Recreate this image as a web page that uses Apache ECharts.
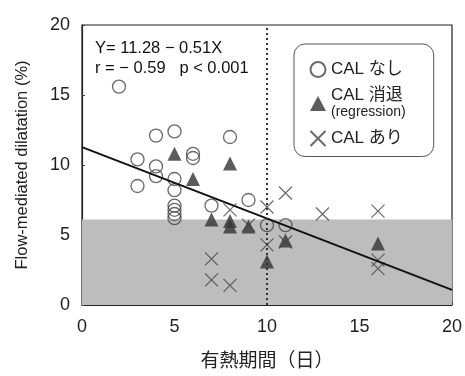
<!DOCTYPE html>
<html>
<head>
<meta charset="utf-8">
<script src="https://cdn.jsdelivr.net/npm/echarts@6/dist/echarts.min.js"></script>
<style>
html, body { margin: 0; padding: 0; background: #fff; }
#fmdChart { width: 465px; height: 376px; }
</style>
</head>
<body>
<div id="fmdChart"></div>
<script>
// 各群のデータ [有熱期間, FMD]
var calNone = [
	[2, 15.6], [3, 10.4], [3, 8.5], [4, 12.1], [4, 9.9], [4, 9.2],
	[5, 12.4], [5, 9.0], [5, 8.2], [5, 7.1], [5, 6.8], [5, 6.5], [5, 6.2],
	[6, 10.8], [6, 10.5], [7, 7.1], [8, 12.0], [9, 7.5], [10, 5.7], [11, 5.7]
];
var calRegression = [
	[5, 10.8], [6, 9.0], [7, 6.1], [8, 10.1], [8, 6.0], [8, 5.6],
	[9, 5.6], [10, 3.1], [11, 4.6], [16, 4.4]
];
var calPresent = [
	[7, 3.3], [7, 1.8], [8, 1.4], [8, 6.8], [9, 5.7], [10, 7.0], [10, 4.3],
	[11, 8.0], [11, 4.5], [13, 6.5], [16, 6.7], [16, 3.2], [16, 2.6]
];
var seriesNames = ['CAL なし', 'CAL 消退', 'CAL あり'];
var xTicks = [0, 5, 10, 15, 20];
var yTicks = [0, 5, 10, 15, 20];
// 回帰式 Y = 11.28 - 0.51X
var regIntercept = 11.28;
var regSlope = -0.51;
var regLine = [[0, regIntercept + regSlope * 0], [20, regIntercept + regSlope * 20]];
var normalLimit = 6.1;
var cutoffDay = 10;

var fontFamily = '"Liberation Sans", "Noto Sans CJK JP", sans-serif';
var fmdChart = echarts.init(document.getElementById('fmdChart'));

var optionFmd = {
	animation : false,
	textStyle : { fontFamily : fontFamily },
	grid : {
		left : 82,
		right : 12,
		top : 25,
		bottom : 69,
		show : true,
		borderColor : '#222',
		borderWidth : 1.2
	},
	legend : {
		data : seriesNames,
		orient : 'vertical',
		left : 294,
		top : 44,
		padding : [17, 28, 8, 14],
		itemGap : 9,
		itemWidth : 16,
		itemHeight : 15,
		borderColor : '#555',
		borderWidth : 1,
		borderRadius : 11,
		backgroundColor : '#fff',
		textStyle : {
			fontSize : 17,
			color : '#222',
			fontFamily : fontFamily,
			rich : {
				a : { fontSize : 17, lineHeight : 18, color : '#222', fontFamily : fontFamily },
				b : { fontSize : 14, lineHeight : 16, color : '#222', fontFamily : fontFamily }
			}
		},
		formatter : function(name) {
			if (name === 'CAL 消退') {
				return '{a|CAL 消退}\n{b|(regression)}';
			}
			return name;
		}
	},
	graphic : [ {
		type : 'text',
		left : 95,
		top : 38,
		style : {
			text : 'Y= 11.28 − 0.51X\nr = − 0.59   p < 0.001',
			fontSize : 16.5,
			lineHeight : 20,
			fill : '#111',
			fontFamily : fontFamily
		}
	} ],
	xAxis : {
		type : 'value',
		min : xTicks[0],
		max : xTicks[xTicks.length - 1],
		interval : 5,
		name : '有熱期間（日）',
		nameLocation : 'middle',
		nameGap : 47,
		nameTextStyle : { fontSize : 19, color : '#222', fontFamily : fontFamily },
		axisLine : { lineStyle : { color : '#222', width : 1.2 } },
		axisTick : { inside : true, length : 3, lineStyle : { color : '#444' } },
		axisLabel : { fontSize : 18, color : '#222', margin : 13 },
		splitLine : { show : false }
	},
	yAxis : {
		type : 'value',
		min : yTicks[0],
		max : yTicks[yTicks.length - 1],
		interval : 5,
		name : 'Flow-mediated dilatation (%)',
		nameLocation : 'middle',
		nameGap : 51,
		nameTextStyle : { fontSize : 16.5, color : '#222', fontFamily : fontFamily },
		axisLine : { show : true, lineStyle : { color : '#222', width : 1.2 } },
		axisTick : { show : true, inside : true, length : 3, lineStyle : { color : '#444' } },
		axisLabel : { fontSize : 18, color : '#222', margin : 12 },
		splitLine : { show : false }
	},
	series : [ {
		// 正常下限の帯
		name : 'band',
		type : 'line',
		data : [],
		z : 1,
		silent : true,
		markArea : {
			silent : true,
			itemStyle : { color : '#bdbdbd' },
			data : [ [ { xAxis : 0, yAxis : 0 }, { xAxis : 20, yAxis : normalLimit } ] ]
		},
		markLine : {
			silent : true,
			symbol : 'none',
			label : { show : false },
			lineStyle : { color : '#333', width : 2, type : [2, 3] },
			data : [ { xAxis : cutoffDay } ]
		}
	}, {
		name : seriesNames[0],
		type : 'scatter',
		symbol : 'circle',
		symbolSize : 13,
		z : 3,
		itemStyle : { color : 'rgba(0,0,0,0)', borderColor : '#444', borderWidth : 1.3 },
		data : calNone
	}, {
		name : seriesNames[1],
		type : 'scatter',
		symbol : 'triangle',
		symbolSize : 14,
		z : 3,
		itemStyle : { color : '#333' },
		data : calRegression
	}, {
		name : seriesNames[2],
		type : 'scatter',
		symbol : 'path://M0,0L12,12M12,0L0,12',
		symbolSize : 13,
		z : 3,
		itemStyle : { color : 'none', borderColor : '#444', borderWidth : 1.2 },
		data : calPresent
	}, {
		name : 'regression line',
		type : 'line',
		symbol : 'none',
		z : 4,
		silent : true,
		lineStyle : { color : '#111', width : 2 },
		data : regLine
	} ]
};
fmdChart.setOption(optionFmd);
</script>
</body>
</html>
